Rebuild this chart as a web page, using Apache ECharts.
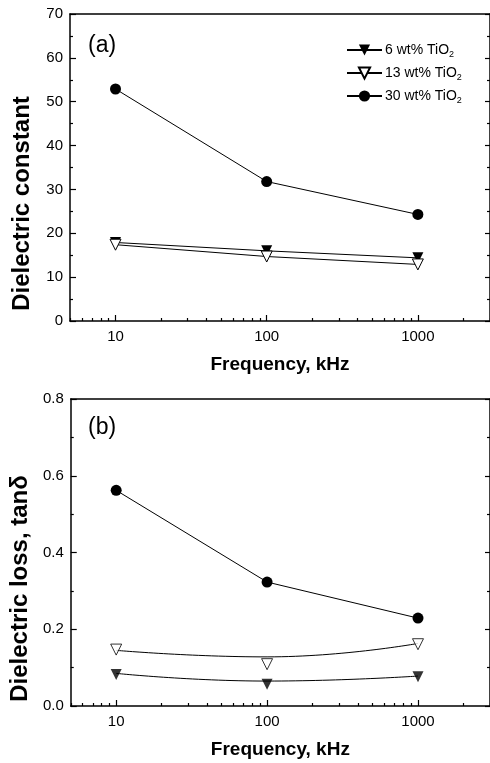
<!DOCTYPE html>
<html>
<head>
<meta charset="utf-8">
<script src="https://cdn.jsdelivr.net/npm/echarts@6/dist/echarts.min.js"></script>
<style>
html, body { margin: 0; padding: 0; background: #fff; }
#container { width: 490px; height: 763px; }
</style>
</head>
<body>
<div id="container"></div>
<script>
var freqs = [10, 100, 1000];
var names = ['6 wt% TiO2', '13 wt% TiO2', '30 wt% TiO2'];
var constant6 = [17.9, 16.0, 14.4];
var constant13 = [17.4, 14.7, 12.9];
var constant30 = [52.9, 31.8, 24.3];
var loss6 = [0.082, 0.057, 0.076];
var loss13 = [0.147, 0.109, 0.161];
var loss30 = [0.562, 0.323, 0.229];
// fitted curves drawn in panel (b)
var lossFit6 = [0.085, 0.065, 0.078];
var lossFit13 = [0.145, 0.128, 0.163];
var majorTicks = [10, 100, 1000];
var minorTicks = [5, 6, 7, 8, 9, 20, 30, 40, 50, 60, 70, 80, 90,
    200, 300, 400, 500, 600, 700, 800, 900, 2000, 3000];

var font = 'Liberation Sans, Arial, sans-serif';

function pairs(ys) {
    return freqs.map(function (f, i) { return [f, ys[i]]; });
}

var dom = document.getElementById('container');
var myChart = echarts.init(dom, null, { renderer: 'canvas' });

var grids = [
    { left: 70, top: 14, width: 421, height: 307 },
    { left: 70, top: 399, width: 421, height: 307 }
];

var xAxes = [];
[0, 1].forEach(function (g) {
    xAxes.push({
        gridIndex: g, type: 'log', logBase: 10, min: 5, max: 3000, position: 'bottom',
        axisLine: { show: true, lineStyle: { color: '#000', width: 1.5 } },
        axisTick: { show: true, inside: true, length: 6, customValues: majorTicks, lineStyle: { color: '#000', width: 1.2 } },
        axisLabel: { customValues: majorTicks, color: '#000', fontSize: 15, fontFamily: font, margin: 8,
            formatter: function (v) { return String(Math.round(v)); } },
        splitLine: { show: false },
        name: 'Frequency, kHz', nameLocation: 'middle', nameGap: 34,
        nameTextStyle: { color: '#000', fontSize: 19, fontWeight: 'bold', fontFamily: font }
    });
    xAxes.push({
        gridIndex: g, type: 'log', logBase: 10, min: 5, max: 3000, position: 'bottom',
        axisLine: { show: false },
        axisTick: { show: true, inside: true, length: 3, customValues: minorTicks, lineStyle: { color: '#000', width: 1.2 } },
        axisLabel: { show: false },
        splitLine: { show: false }
    });
    xAxes.push({
        gridIndex: g, type: 'log', logBase: 10, min: 5, max: 3000, position: 'top',
        axisLine: { show: true, lineStyle: { color: '#000', width: 1.5 } },
        axisTick: { show: false },
        axisLabel: { show: false },
        splitLine: { show: false }
    });
});

function yPair(g, max, interval, name, fmt) {
    var base = {
        gridIndex: g, type: 'value', min: 0, max: max, interval: interval,
        splitLine: { show: false }, minorSplitLine: { show: false }
    };
    var left = Object.assign({}, base, {
        position: 'left',
        axisLine: { show: true, lineStyle: { color: '#000', width: 1.5 } },
        axisTick: { show: true, inside: true, length: 6, lineStyle: { color: '#000', width: 1.2 } },
        minorTick: { show: true, splitNumber: 2, length: 3, lineStyle: { color: '#000', width: 1.2 } },
        axisLabel: { color: '#000', fontSize: 15, fontFamily: font, margin: 7, formatter: fmt },
        name: name, nameLocation: 'middle', nameGap: 36,
        nameTextStyle: { color: '#000', fontSize: 24, fontWeight: 'bold', fontFamily: font, padding: [0, 72, 0, 0] }
    });
    var right = Object.assign({}, base, {
        position: 'right',
        axisLine: { show: true, lineStyle: { color: '#000', width: 1.5 } },
        axisTick: { show: true, inside: true, length: 5, lineStyle: { color: '#000', width: 1.2 } },
        minorTick: { show: true, splitNumber: 2, length: 3, lineStyle: { color: '#000', width: 1.2 } },
        axisLabel: { show: false }
    });
    return [left, right];
}

var yAxes = yPair(0, 70, 10, 'Dielectric constant', function (v) { return v; })
    .concat(yPair(1, 0.8, 0.2, 'Dielectric loss, tan\u03b4', function (v) { return v.toFixed(1); }));

var lineStyle = { color: '#000', width: 1 };
var filledDown = { symbol: 'triangle', symbolRotate: 180, symbolSize: 11, itemStyle: { color: '#000' } };
var openDown = { symbol: 'triangle', symbolRotate: 180, symbolSize: 11, itemStyle: { color: '#fff', borderColor: '#000', borderWidth: 1 } };
var dot = { symbol: 'circle', symbolSize: 11, itemStyle: { color: '#000' } };

function series(o) {
    return Object.assign({ type: 'line', lineStyle: lineStyle, animation: false, showAllSymbol: true }, o);
}

var option = {
    backgroundColor: '#fff',
    animation: false,
    title: [
        { text: '(a)', left: 83, top: 29, textStyle: { fontSize: 23, fontWeight: 'normal', fontFamily: font, color: '#000' } },
        { text: '(b)', left: 83, top: 411, textStyle: { fontSize: 23, fontWeight: 'normal', fontFamily: font, color: '#000' } }
    ],
    legend: {
        data: names, orient: 'vertical', left: 346, top: 43, padding: 0,
        itemWidth: 35, itemHeight: 14, itemGap: 6.5,
        textStyle: { color: '#000', fontSize: 14, fontFamily: font, padding: [0, 0, 0, -2],
            rich: { s: { fontSize: 9, fontFamily: font, color: '#000', padding: [10, 0, 0, 0] } } },
        formatter: function (n) { return n.replace('TiO2', 'TiO{s|2}'); }
    },
    grid: grids,
    xAxis: xAxes,
    yAxis: yAxes,
    series: [
        series(Object.assign({ name: names[0], xAxisIndex: 0, yAxisIndex: 0, data: pairs(constant6) }, filledDown)),
        series(Object.assign({ name: names[1], xAxisIndex: 0, yAxisIndex: 0, data: pairs(constant13) }, openDown)),
        series(Object.assign({ name: names[2], xAxisIndex: 0, yAxisIndex: 0, data: pairs(constant30) }, dot)),
        series({ name: 'fit6', xAxisIndex: 3, yAxisIndex: 2, data: pairs(lossFit6), smooth: true, symbol: 'none' }),
        series({ name: 'fit13', xAxisIndex: 3, yAxisIndex: 2, data: pairs(lossFit13), smooth: true, symbol: 'none' }),
        Object.assign({ type: 'scatter', name: 'b6', xAxisIndex: 3, yAxisIndex: 2, data: pairs(loss6), z: 5 }, filledDown),
        Object.assign({ type: 'scatter', name: 'b13', xAxisIndex: 3, yAxisIndex: 2, data: pairs(loss13), z: 5 }, openDown),
        series(Object.assign({ name: 'b30', xAxisIndex: 3, yAxisIndex: 2, data: pairs(loss30) }, dot))
    ]
};

myChart.setOption(option);
</script>
</body>
</html>
